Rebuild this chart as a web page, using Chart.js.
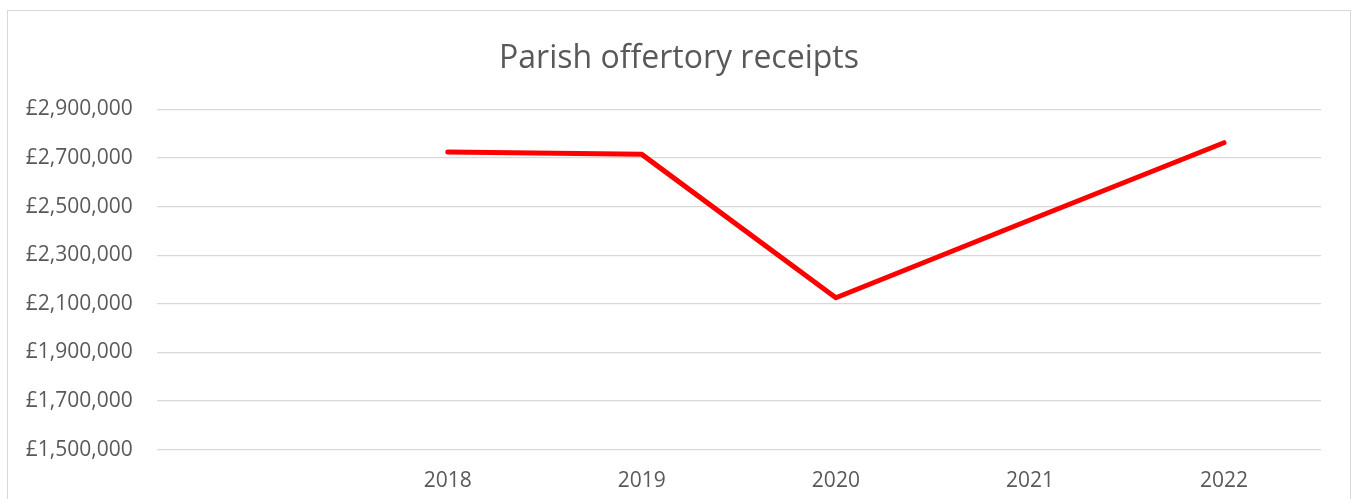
<!DOCTYPE html>
<html>
<head>
<meta charset="utf-8">
<script src="https://cdn.jsdelivr.net/npm/chart.js@4.4.1/dist/chart.umd.min.js"></script>
<style>
  html, body { margin:0; padding:0; background:#fff; overflow:hidden; }
  .frame { position:absolute; left:7px; top:10px; width:1342px; height:500px; border:1px solid #d9d9d9; }
  canvas { display:block; }
</style>
</head>
<body>
<div class="frame"><canvas id="chartOffertory" width="1342" height="488"></canvas></div>
<script>
// chart data
const years = ['', '2018', '2019', '2020', '2021', '2022'];
const receipts = [null, 2725000, 2715000, 2125000, 2445000, 2763000];
const yMin = 1500000, yMax = 2900000, yStep = 200000;

function initChart(){
  Chart.defaults.font.family = "'Open Sans', 'Liberation Sans', sans-serif";
  Chart.defaults.color = '#595959';

  new Chart(document.getElementById('chartOffertory').getContext('2d'), {
    type:'line',
    data:{
      labels: years,
      datasets:[{
        label:'Receipts',
        data: receipts,
        borderColor:'#ff0000',
        borderWidth:5,
        borderCapStyle:'round',
        borderJoinStyle:'round',
        pointRadius:0,
        tension:0,
        fill:false
      }]
    },
    options:{
      responsive:false,
      animation:false,
      // equal side padding keeps the title centred on the frame
      layout:{ padding:{ left:14.5, right:14.5, top:0, bottom:0 } },
      plugins:{
        legend:{ display:false },
        tooltip:{ enabled:false },
        title:{
          display:true,
          text:'Parish offertory receipts',
          color:'#595959',
          font:{ size:32, weight:'normal', lineHeight:1.2 },
          padding:{ top:29, bottom:31 }
        }
      },
      scales:{
        x:{
          offset:true,
          grid:{ display:false, drawTicks:false },
          border:{ display:false },
          ticks:{ font:{ size:21 }, color:'#595959', padding:19, maxRotation:0 },
          afterFit(s){ s.height = 49.3; }
        },
        y:{
          min:yMin, max:yMax,
          grid:{ color:'#d9d9d9', lineWidth:1.3, drawTicks:false },
          border:{ display:false },
          ticks:{
            stepSize:yStep,
            font:{ size:21 }, color:'#595959', padding:24,
            callback:(v) => '£' + Number(v).toLocaleString('en-GB')
          },
          afterFit(s){ s.width = 134.2; }
        },
        // empty right-hand spacer so the plot ends where the reference does
        yRight:{
          position:'right',
          grid:{ display:false, drawTicks:false },
          border:{ display:false },
          ticks:{ display:false },
          afterFit(s){ s.width = 14.5; }
        }
      }
    }
  });
}
document.addEventListener('DOMContentLoaded', initChart);
</script>
</body>
</html>
